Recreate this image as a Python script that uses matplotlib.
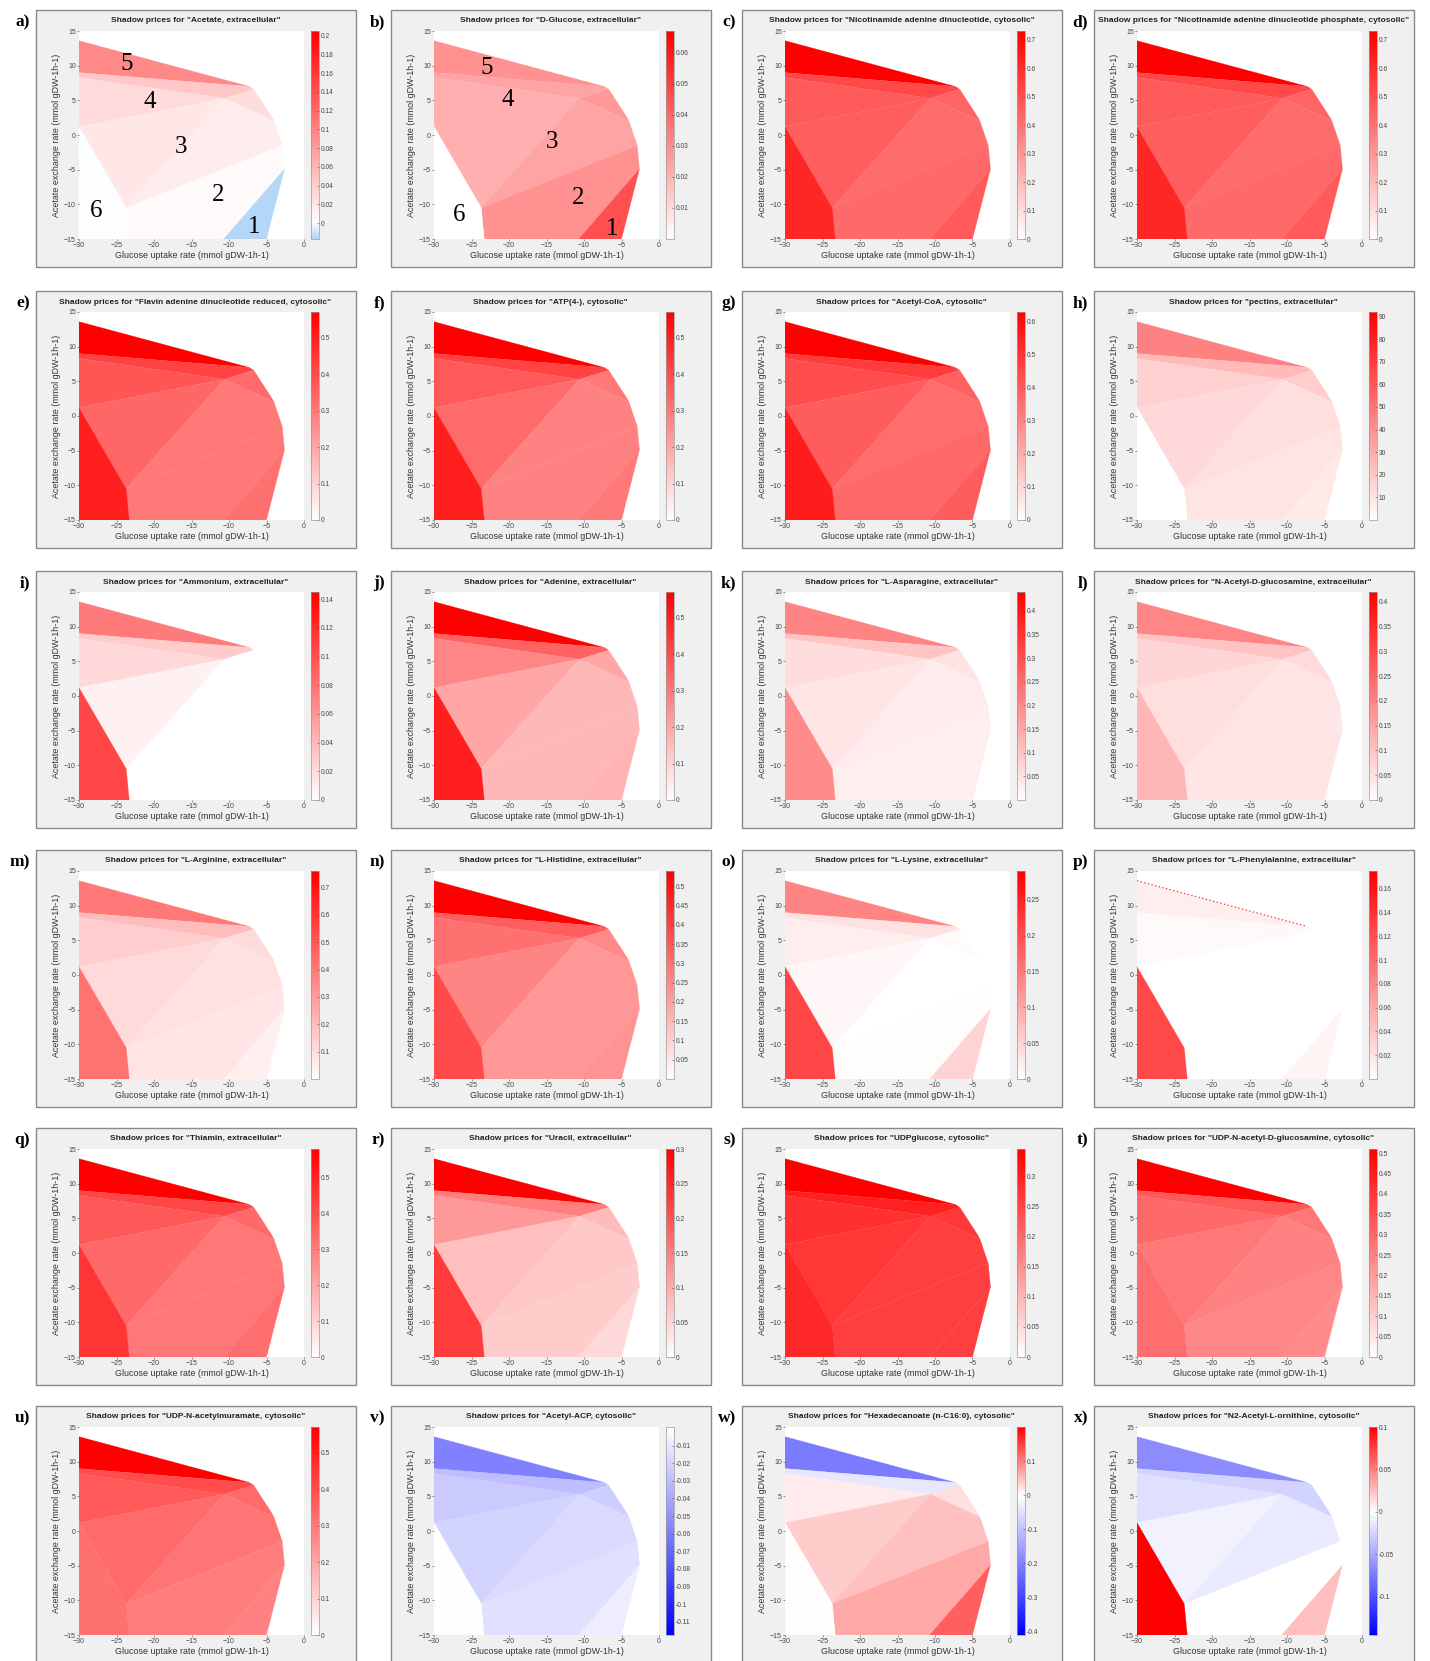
import matplotlib
matplotlib.use("Agg")
import matplotlib.pyplot as plt
from matplotlib.collections import PolyCollection
from matplotlib.colors import LinearSegmentedColormap, Normalize
from matplotlib.patches import Rectangle
from matplotlib.cm import ScalarMappable

plt.rcParams['font.family'] = ['Liberation Sans', 'DejaVu Sans']

# ---------------- data ----------------
letters = list("abcdefghijklmnopqrstuvwx")
compounds = [
    "Acetate, extracellular", "D-Glucose, extracellular",
    "Nicotinamide adenine dinucleotide, cytosolic",
    "Nicotinamide adenine dinucleotide phosphate, cytosolic",
    "Flavin adenine dinucleotide reduced, cytosolic", "ATP(4-), cytosolic",
    "Acetyl-CoA, cytosolic", "pectins, extracellular",
    "Ammonium, extracellular", "Adenine, extracellular",
    "L-Asparagine, extracellular", "N-Acetyl-D-glucosamine, extracellular",
    "L-Arginine, extracellular", "L-Histidine, extracellular",
    "L-Lysine, extracellular", "L-Phenylalanine, extracellular",
    "Thiamin, extracellular", "Uracil, extracellular",
    "UDPglucose, cytosolic", "UDP-N-acetyl-D-glucosamine, cytosolic",
    "UDP-N-acetylmuramate, cytosolic", "Acetyl-ACP, cytosolic",
    "Hexadecanoate (n-C16:0), cytosolic", "N2-Acetyl-L-ornithine, cytosolic",
]

# phase-plane vertices (glucose uptake, acetate exchange)
V_TL = (-30.0, 13.6); V_TR = (-7.3, 7.0); V_R1 = (-6.7, 6.6)
V_L9 = (-30.0, 9.0); V_L8 = (-30.0, 8.3); V_C = (-10.6, 5.3)
V_L1 = (-30.0, 1.2); V_R2 = (-4.3, 2.6); V_R3 = (-4.0, 2.0)
V_R4 = (-2.9, -1.5); V_R5 = (-2.6, -4.9); V_B1 = (-5.0, -15.0)
V_B2 = (-10.7, -15.0); V_B3 = (-23.3, -15.0); V_M = (-23.7, -10.5)
V_BL = (-30.0, -15.0)

# regions: P5, P4a, P4b, P3a, P3c, P3b, P2, P1, P6
regions = [
    [V_TL, V_TR, V_L9],
    [V_L9, V_TR, V_R1, V_C, V_L8],
    [V_L8, V_C, V_L1],
    [V_L1, V_C, V_M],
    [V_C, V_R1, V_R2, V_R3],
    [V_C, V_R3, V_R4, V_M],
    [V_M, V_R4, V_R5, V_B2, V_B3],
    [V_R5, V_B1, V_B2],
    [V_L1, V_M, V_B3, V_BL],
]

shadow_prices = {
    'a': [0.095, 0.045, 0.03, 0.02, 0.028, 0.015, 0.004, -0.016, 0.0],
    'b': [0.029, 0.024, 0.021, 0.021, 0.027, 0.024, 0.029, 0.046, 0.0],
    'c': [0.73, 0.52, 0.47, 0.46, 0.44, 0.42, 0.43, 0.47, 0.62],
    'd': [0.73, 0.52, 0.47, 0.46, 0.44, 0.42, 0.43, 0.47, 0.62],
    'e': [0.57, 0.42, 0.38, 0.34, 0.33, 0.30, 0.30, 0.32, 0.50],
    'f': [0.57, 0.42, 0.37, 0.33, 0.30, 0.28, 0.28, 0.30, 0.50],
    'g': [0.63, 0.48, 0.44, 0.40, 0.39, 0.36, 0.37, 0.40, 0.56],
    'h': [45, 25, 17, 14, 18, 12, 10, 8, 0],
    'i': [0.075, 0.03, 0.022, 0.008, 0.0, 0.0, 0.0, 0.0, 0.105],
    'j': [0.57, 0.35, 0.27, 0.20, 0.20, 0.16, 0.16, 0.17, 0.50],
    'k': [0.21, 0.10, 0.06, 0.045, 0.05, 0.035, 0.03, 0.03, 0.20],
    'l': [0.20, 0.10, 0.07, 0.055, 0.06, 0.045, 0.04, 0.045, 0.12],
    'm': [0.40, 0.20, 0.15, 0.11, 0.11, 0.09, 0.08, 0.05, 0.42],
    'n': [0.54, 0.34, 0.30, 0.26, 0.25, 0.22, 0.22, 0.23, 0.38],
    'o': [0.14, 0.035, 0.02, 0.01, 0.005, 0.0, 0.004, 0.05, 0.21],
    'p': [0.012, 0.005, 0.004, 0.0, 0.0, 0.0, 0.0, 0.008, 0.125],
    'q': [0.58, 0.42, 0.38, 0.34, 0.34, 0.31, 0.31, 0.33, 0.46],
    'r': [0.30, 0.15, 0.12, 0.075, 0.08, 0.065, 0.06, 0.045, 0.23],
    's': [0.345, 0.30, 0.28, 0.27, 0.27, 0.26, 0.26, 0.26, 0.29],
    't': [0.51, 0.33, 0.30, 0.27, 0.27, 0.25, 0.24, 0.23, 0.29],
    'u': [0.57, 0.40, 0.37, 0.33, 0.33, 0.31, 0.29, 0.28, 0.32],
    'v': [-0.058, -0.03, -0.024, -0.02, -0.022, -0.017, -0.014, -0.008, 0.0],
    'w': [-0.21, -0.04, 0.015, 0.038, 0.026, 0.048, 0.067, 0.125, 0.0],
    'x': [-0.065, -0.025, -0.018, -0.008, -0.025, -0.012, 0.0, 0.025, 0.1],
}

color_limits = {
    'a': (-0.017, 0.205), 'b': (0.0, 0.067), 'c': (0.0, 0.73), 'd': (0.0, 0.73),
    'e': (0.0, 0.57), 'f': (0.0, 0.57), 'g': (0.0, 0.63), 'h': (0.0, 92),
    'i': (0.0, 0.145), 'j': (0.0, 0.57), 'k': (0.0, 0.44), 'l': (0.0, 0.42),
    'm': (0.0, 0.76), 'n': (0.0, 0.54), 'o': (0.0, 0.29), 'p': (0.0, 0.175),
    'q': (0.0, 0.58), 'r': (0.0, 0.30), 's': (0.0, 0.345), 't': (0.0, 0.51),
    'u': (0.0, 0.57), 'v': (-0.1175, 0.0005), 'w': (-0.41, 0.20), 'x': (-0.145, 0.10),
}

def rng(a, b, s):
    out = []
    k = 0
    while a + k * s <= b + 1e-9:
        out.append(round(a + k * s, 4))
        k += 1
    return out

colorbar_ticks = {
    'a': rng(0, 0.2, 0.02), 'b': rng(0.01, 0.06, 0.01), 'c': rng(0, 0.7, 0.1),
    'd': rng(0, 0.7, 0.1), 'e': rng(0, 0.5, 0.1), 'f': rng(0, 0.5, 0.1),
    'g': rng(0, 0.6, 0.1), 'h': rng(10, 90, 10), 'i': rng(0, 0.14, 0.02),
    'j': rng(0, 0.5, 0.1), 'k': rng(0.05, 0.4, 0.05), 'l': rng(0, 0.4, 0.05),
    'm': rng(0.1, 0.7, 0.1), 'n': rng(0.05, 0.5, 0.05), 'o': rng(0, 0.25, 0.05),
    'p': rng(0.02, 0.16, 0.02), 'q': rng(0, 0.5, 0.1), 'r': rng(0, 0.3, 0.05),
    's': rng(0, 0.3, 0.05), 't': rng(0, 0.5, 0.05), 'u': rng(0, 0.5, 0.1),
    'v': rng(-0.11, -0.01, 0.01), 'w': rng(-0.4, 0.1, 0.1), 'x': rng(-0.1, 0.1, 0.05),
}

negative_colors = {'a': (0.69, 0.83, 0.97)}
region_numbers = ['5', '4', '3', '2', '1', '6']
number_pos = {
    'a': [(-23.7, 10.3), (-20.6, 4.7), (-16.4, -1.7), (-11.4, -8.6), (-6.7, -13.2), (-27.7, -11.0)],
    'b': [(-23.0, 9.6), (-20.1, 5.0), (-14.3, -1.0), (-10.8, -9.1), (-6.3, -13.6), (-26.6, -11.5)],
}

# ---------------- layout ----------------
W, H = 1430, 1661
fig = plt.figure(figsize=(W / 100, H / 100), dpi=100)
fig.patch.set_facecolor('white')

col_left = [36, 391, 742, 1094]
row_top = [10, 291, 571, 850, 1128, 1406]
BOX_W, BOX_H = 320, 257


def fr(x, y, w, h):
    return [x / W, 1 - (y + h) / H, w / W, h / H]


def make_cmap(vmin, vmax, negc):
    red = (1.0, 0.0, 0.0)
    white = (1.0, 1.0, 1.0)
    if vmin >= 0:
        return LinearSegmentedColormap.from_list('pos', [(0, white), (1, red)])
    if vmax <= 0.001:
        return LinearSegmentedColormap.from_list('neg', [(0, negc), (1, white)])
    z = -vmin / (vmax - vmin)
    return LinearSegmentedColormap.from_list('div', [(0, negc), (z, white), (1, red)])


for idx, L in enumerate(letters):
    r, c = divmod(idx, 4)
    bx, by = col_left[c], row_top[r]
    fig.add_artist(Rectangle((bx / W, 1 - (by + BOX_H) / H), BOX_W / W, BOX_H / H,
                             transform=fig.transFigure, facecolor='#f0f0f0',
                             edgecolor='#8a8a8a', lw=1.0, zorder=-5))
    fig.text((bx - 6) / W, 1 - (by + 12) / H, L + ')', ha='right', va='center',
             family=['Liberation Serif', 'DejaVu Serif'], fontweight='bold', fontsize=12.5)

    ax_x, ax_y, ax_w, ax_h = bx + 43, by + 21, 225, 208
    ax = fig.add_axes(fr(ax_x, ax_y, ax_w, ax_h))
    cax = fig.add_axes(fr(ax_x + ax_w + 7, ax_y, 8, ax_h))

    vmin, vmax = color_limits[L]
    negc = negative_colors.get(L, (0.0, 0.0, 1.0))
    cmap = make_cmap(vmin, vmax, negc)
    norm = Normalize(vmin=vmin, vmax=vmax)

    pc = PolyCollection(regions, array=shadow_prices[L], cmap=cmap, norm=norm,
                        edgecolors='face', linewidths=0.2)
    ax.add_collection(pc)
    if L == 'p':
        ax.plot([V_TL[0], V_TR[0]], [V_TL[1], V_TR[1]], ls=(0, (1, 2)),
                color='#f03030', lw=0.9)

    ax.set_xlim(-30, 0)
    ax.set_ylim(-15, 15)
    ax.set_xticks(range(-30, 1, 5))
    ax.set_yticks(range(-15, 16, 5))
    ax.set_facecolor('white')
    for s in ax.spines.values():
        s.set_visible(False)
    ax.tick_params(labelsize=5.0, length=1.5, width=0.4, pad=0.8,
                   colors='#444444', direction='out')
    ax.set_xlabel('Glucose uptake rate (mmol gDW-1h-1)', fontsize=6.4,
                  labelpad=1.5, color='#333333')
    ax.set_ylabel('Acetate exchange rate (mmol gDW-1h-1)', fontsize=6.4,
                  labelpad=2, color='#333333')

    fig.text((ax_x + ax_w / 2 + 4) / W, 1 - (by + 11) / H,
             'Shadow prices for "%s"' % compounds[idx],
             ha='center', va='center', fontsize=6.0, fontweight='bold', color='#222222')

    if L in number_pos:
        for txt, (px, py) in zip(region_numbers, number_pos[L]):
            ax.text(px, py, txt, ha='center', va='center', fontsize=18,
                    family=['Liberation Serif', 'DejaVu Serif'], color='black')

    sm = ScalarMappable(norm=norm, cmap=cmap)
    cb = fig.colorbar(sm, cax=cax)
    cb.set_ticks(colorbar_ticks[L])
    cb.set_ticklabels(['%g' % t for t in colorbar_ticks[L]])
    cb.outline.set_edgecolor('#9a9a9a')
    cb.outline.set_linewidth(0.5)
    cax.tick_params(labelsize=4.8, length=1.5, width=0.4, pad=1,
                    colors='#444444', direction='in')

fig.savefig('out.png', dpi=100)
